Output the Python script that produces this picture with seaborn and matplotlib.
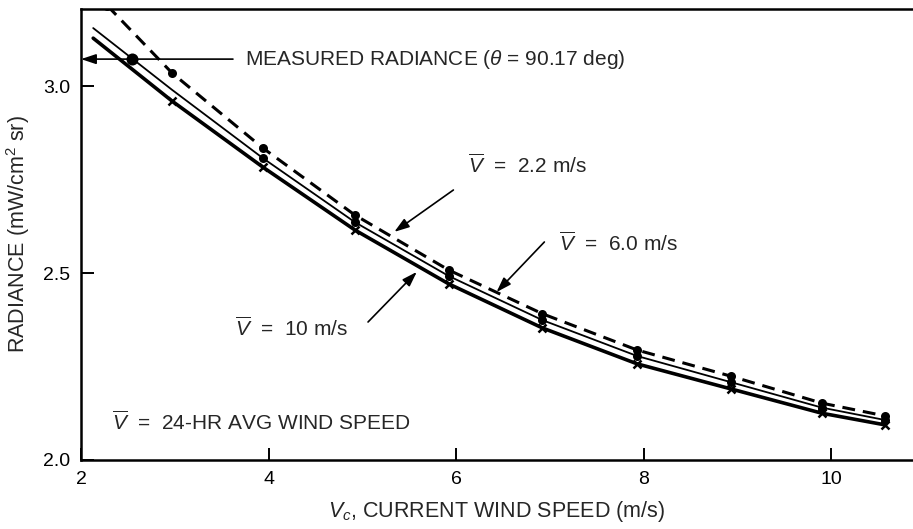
import matplotlib
matplotlib.use("Agg")
import matplotlib.pyplot as plt
import seaborn as sns
import pandas as pd

# ---- data ----
x_v22 = [2.28, 2.97, 3.94, 4.92, 5.92, 6.92, 7.93, 8.93, 9.90, 10.57]
y_v22 = [3.215, 3.035, 2.834, 2.655, 2.508, 2.391, 2.294, 2.224, 2.152, 2.118]

x_v60 = [2.13, 2.97, 3.94, 4.92, 5.92, 6.92, 7.93, 8.93, 9.90, 10.57]
y_v60 = [3.155, 2.990, 2.807, 2.636, 2.492, 2.374, 2.278, 2.208, 2.140, 2.107]

x_v10 = [2.13, 2.97, 3.94, 4.92, 5.92, 6.92, 7.93, 8.93, 9.90, 10.57]
y_v10 = [3.128, 2.960, 2.783, 2.615, 2.471, 2.353, 2.257, 2.190, 2.125, 2.094]

measured_x = [2.54]
measured_y = [3.072]

x_ticks = [2, 4, 6, 8, 10]
y_ticks = [2.0, 2.5, 3.0]
y_tick_labels = ["2.0", "2.5", "3.0"]

sns.set_style("ticks")
plt.rcParams["font.family"] = ["Liberation Sans", "DejaVu Sans"]
plt.rcParams["mathtext.fontset"] = "custom"
plt.rcParams["mathtext.rm"] = "Liberation Sans"
plt.rcParams["mathtext.it"] = "Liberation Sans:italic"
plt.rcParams["mathtext.bf"] = "Liberation Sans:bold"

fig = plt.figure(figsize=(9.13, 5.29), dpi=100)
ax = fig.add_axes([81 / 913, 69 / 529, 832 / 913, 451 / 529])

df22 = pd.DataFrame({"x": x_v22, "y": y_v22})
df60 = pd.DataFrame({"x": x_v60, "y": y_v60})
df10 = pd.DataFrame({"x": x_v10, "y": y_v10})

sns.lineplot(data=df22, x="x", y="y", ax=ax, color="black", lw=2.2,
             linestyle=(0, (4.2, 2.6)), sort=False,
             marker="o", markersize=6.5, markevery=list(range(0, 10)),
             markeredgewidth=0, markerfacecolor="black", estimator=None)
sns.lineplot(data=df60, x="x", y="y", ax=ax, color="black", lw=1.3,
             sort=False, marker="o", markersize=6.5,
             markevery=list(range(2, 10)), markeredgewidth=0,
             markerfacecolor="black", estimator=None)
sns.lineplot(data=df10, x="x", y="y", ax=ax, color="black", lw=2.6,
             sort=False, marker="x", markersize=5.5, markeredgewidth=1.8,
             markeredgecolor="black", markevery=list(range(1, 10)),
             estimator=None)
sns.scatterplot(x=measured_x, y=measured_y, ax=ax, color="black", s=75,
                linewidth=0, zorder=5)

ax.set_xlim(2.0, 10.87)
ax.set_ylim(2.0, 3.206)
ax.set_xticks(x_ticks)
ax.set_xticklabels([str(t) for t in x_ticks])
ax.set_yticks(y_ticks)
ax.set_yticklabels(y_tick_labels)
ax.tick_params(direction="in", length=9, width=1.4, labelsize=14, pad=8,
               colors="black")
for s in ["left", "bottom", "top"]:
    ax.spines[s].set_linewidth(1.8)
    ax.spines[s].set_color("black")
ax.spines["right"].set_visible(False)

ax.set_xlabel(r"$V_{c}$, CURRENT WIND SPEED (m/s)", fontsize=15.5, labelpad=8)
ax.set_ylabel(r"RADIANCE (mW/cm$^2$ sr)", fontsize=15.5, labelpad=8)

vbar = r"$\overline{V}$"
arrow = dict(arrowstyle="-|>,head_length=0.9,head_width=0.3", color="black",
             lw=1.2, shrinkA=0, shrinkB=0)
fs = 15

ax.annotate("", xy=(2.0, 3.072), xytext=(3.62, 3.072), arrowprops=arrow)
ax.text(3.75, 3.072, r"MEASURED RADIANCE ($\theta$ = 90.17 deg)",
        fontsize=fs, va="center", ha="left")

ax.annotate("", xy=(5.34, 2.61), xytext=(5.97, 2.722), arrowprops=arrow)
ax.text(6.13, 2.789, vbar + "  =  2.2 m/s", fontsize=fs, va="center", ha="left")

ax.annotate("", xy=(6.43, 2.449), xytext=(6.94, 2.583), arrowprops=arrow)
ax.text(7.10, 2.58, vbar + "  =  6.0 m/s", fontsize=fs, va="center", ha="left")

ax.annotate("", xy=(5.58, 2.503), xytext=(5.06, 2.369), arrowprops=arrow)
ax.text(3.64, 2.353, vbar + "  =  10 m/s", fontsize=fs, va="center", ha="left")

ax.text(2.33, 2.10, vbar + "  =  24-HR AVG WIND SPEED", fontsize=fs,
        va="center", ha="left")

fig.savefig("out.png", dpi=100)
